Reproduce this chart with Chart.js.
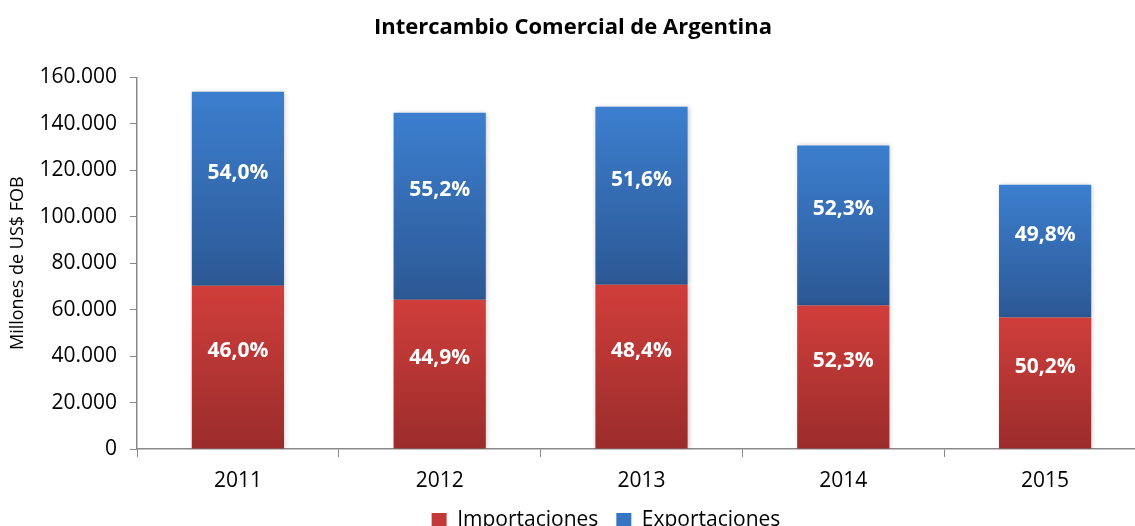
<!DOCTYPE html>
<html>
<head>
<meta charset="utf-8">
<script src="https://cdn.jsdelivr.net/npm/chart.js@4"></script>
<style>
  html, body { margin: 0; padding: 0; background: #fff; overflow: hidden; }
  #wrap { width: 1150px; height: 541px; }
</style>
</head>
<body>
<div id="wrap"><canvas id="tradeChart" width="1150" height="541"></canvas></div>
<script>
// values, millones de US$ FOB
const years = ['2011', '2012', '2013', '2014', '2015'];
const importaciones = [70300, 64300, 70700, 61800, 56600];
const exportaciones = [83500, 80500, 76700, 68900, 57200];
const impLabels = ['46,0%', '44,9%', '48,4%', '52,3%', '50,2%'];
const expLabels = ['54,0%', '55,2%', '51,6%', '52,3%', '49,8%'];
const yTicks = [0, 20000, 40000, 60000, 80000, 100000, 120000, 140000, 160000];

const FONT = "'Open Sans', 'Liberation Sans', sans-serif";

// vertical gradient per segment, darker at the bottom
function segGradient(top, bottom, datasetIndex) {
    return function(ctx) {
        const chart = ctx.chart;
        const y = chart.scales.y;
        if (!y || !chart.chartArea || ctx.dataIndex === undefined) return top;
        const lo = datasetIndex === 0 ? 0 : importaciones[ctx.dataIndex];
        const hi = lo + (datasetIndex === 0 ? importaciones : exportaciones)[ctx.dataIndex];
        const g = chart.ctx.createLinearGradient(0, y.getPixelForValue(hi), 0, y.getPixelForValue(lo));
        g.addColorStop(0, top);
        g.addColorStop(1, bottom);
        return g;
    };
}

// white percentage labels inside each segment
const pctLabels = {
    id: 'pctLabels',
    beforeDatasetsDraw(chart) {
        // soft shadow like the original bars
        const c = chart.ctx;
        c.save();
        c.shadowColor = 'rgba(0,0,0,0.22)';
        c.shadowBlur = 5;
        c.shadowOffsetX = 1;
        c.shadowOffsetY = 0;
    },
    afterDatasetsDraw(chart) {
        const c = chart.ctx;
        c.restore();
        c.save();
        c.fillStyle = '#ffffff';
        c.font = "bold 21px " + FONT;
        c.textAlign = 'center';
        c.textBaseline = 'middle';
        [impLabels, expLabels].forEach((labels, di) => {
            chart.getDatasetMeta(di).data.forEach((bar, i) => {
                c.fillText(labels[i], bar.x, (bar.y + bar.base) / 2 - 16);
            });
        });
        c.restore();
    },
    afterLayout(chart) {
        // legend in the original sits a bit right of centre
        chart.legend.left += 33;
        chart.legend.right += 33;
    }
};

new Chart(document.getElementById('tradeChart'), {
    type: 'bar',
    data: {
        labels: years,
        datasets: [
            {
                label: 'Importaciones',
                data: importaciones,
                backgroundColor: segGradient('#d03e3b', '#9a2c2b', 0)
            },
            {
                label: 'Exportaciones',
                data: exportaciones,
                backgroundColor: segGradient('#3c7fcf', '#2c5894', 1)
            }
        ]
    },
    options: {
        responsive: false,
        animation: false,
        datasets: { bar: { categoryPercentage: 1, barPercentage: 0.457 } },
        layout: { padding: { left: 0, right: 4, top: 0, bottom: 0 } },
        plugins: {
            title: {
                display: true,
                text: 'Intercambio Comercial de Argentina',
                color: '#000',
                font: { family: FONT, size: 22, weight: 'bold' },
                padding: { top: 15, bottom: 36 }
            },
            legend: {
                position: 'bottom',
                labels: {
                    color: '#000',
                    font: { family: FONT, size: 21 },
                    boxWidth: 15,
                    boxHeight: 15,
                    padding: 18,
                    generateLabels(chart) {
                        const cols = ['#c23937', '#3774c1'];
                        return chart.data.datasets.map((ds, i) => ({
                            text: ds.label,
                            fillStyle: cols[i],
                            strokeStyle: cols[i],
                            lineWidth: 0,
                            datasetIndex: i,
                            hidden: false
                        }));
                    }
                }
            },
            tooltip: { enabled: false }
        },
        scales: {
            x: {
                stacked: true,
                grid: { offset: true, drawOnChartArea: false, tickLength: 8, color: '#898989' },
                border: { color: '#898989', width: 1.5 },
                ticks: { color: '#000', font: { family: FONT, size: 21 }, padding: 11 },
                afterFit(scale) { scale.height = 43; }
            },
            y: {
                stacked: true,
                min: 0,
                max: 160000,
                afterBuildTicks(scale) { scale.ticks = yTicks.map(v => ({ value: v })); },
                grid: { drawOnChartArea: false, tickLength: 7, color: '#898989' },
                border: { color: '#898989', width: 1.5 },
                ticks: {
                    color: '#000',
                    font: { family: FONT, size: 21 },
                    padding: 13,
                    callback: v => v.toLocaleString('de-DE')
                },
                title: {
                    display: true,
                    text: 'Millones de US$ FOB',
                    color: '#000',
                    font: { family: FONT, size: 18 },
                    padding: { top: 7, bottom: 0 }
                },
                afterFit(scale) { scale.width = 137; }
            }
        }
    },
    plugins: [pctLabels]
});
</script>
</body>
</html>
